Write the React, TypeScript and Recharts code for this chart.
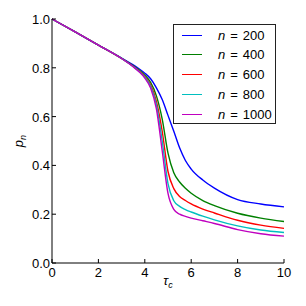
import { LineChart, Line, XAxis, YAxis, Legend } from 'recharts'

const tau = [0, 1, 2, 3, 3.5, 3.75, 4, 4.25, 4.5, 4.75, 5, 5.25, 5.5, 5.75, 6, 6.5, 7, 8, 9, 10]
const p200 = [1.0, 0.947, 0.893, 0.84, 0.812, 0.796, 0.778, 0.755, 0.718, 0.67, 0.605, 0.54, 0.472, 0.42, 0.385, 0.34, 0.307, 0.26, 0.242, 0.23]
const p400 = [1.0, 0.947, 0.893, 0.839, 0.808, 0.791, 0.77, 0.74, 0.685, 0.59, 0.45, 0.37, 0.332, 0.306, 0.286, 0.256, 0.235, 0.204, 0.184, 0.17]
const p600 = [1.0, 0.947, 0.893, 0.838, 0.806, 0.788, 0.765, 0.73, 0.662, 0.54, 0.375, 0.305, 0.273, 0.256, 0.242, 0.221, 0.205, 0.175, 0.155, 0.142]
const p800 = [1.0, 0.947, 0.893, 0.838, 0.805, 0.786, 0.762, 0.724, 0.648, 0.5, 0.325, 0.255, 0.232, 0.219, 0.209, 0.192, 0.177, 0.152, 0.135, 0.125]
const p1000 = [1.0, 0.947, 0.893, 0.838, 0.804, 0.784, 0.758, 0.717, 0.632, 0.46, 0.285, 0.22, 0.2, 0.191, 0.184, 0.173, 0.162, 0.137, 0.12, 0.11]

const xTicks = [0, 2, 4, 6, 8, 10]
const yTicks = [0, 0.2, 0.4, 0.6, 0.8, 1.0]

const series = [
  { key: 'n200', n: '200', values: p200, color: '#0000ff' },
  { key: 'n400', n: '400', values: p400, color: '#008000' },
  { key: 'n600', n: '600', values: p600, color: '#ff0000' },
  { key: 'n800', n: '800', values: p800, color: '#00bfbf' },
  { key: 'n1000', n: '1000', values: p1000, color: '#bf00bf' },
]

const rows = tau.map((t, i) => {
  const row: Record<string, number> = { tau: t }
  series.forEach((s) => { row[s.key] = s.values[i] })
  return row
})

const font = "'Liberation Sans', sans-serif"
const tickFont = { fontFamily: font, fontSize: 13, fill: '#000' }

const BottomTick = ({ x, y, payload }: any) => (
  <g>
    <line x1={x} y1={y} x2={x} y2={y - 4} stroke="#000" />
    <text x={x} y={y + 14} textAnchor="middle" style={tickFont}>{payload.value}</text>
  </g>
)

const TopTick = ({ x, y }: any) => <line x1={x} y1={y} x2={x} y2={y + 4} stroke="#000" />

const LeftTick = ({ x, y, payload }: any) => (
  <g>
    <line x1={x} y1={y} x2={x + 4} y2={y} stroke="#000" />
    <text x={x - 2} y={y + 5} textAnchor="end" style={tickFont}>{payload.value.toFixed(1)}</text>
  </g>
)

const RightTick = ({ x, y }: any) => <line x1={x} y1={y} x2={x - 4} y2={y} stroke="#000" />

const XTitle = ({ viewBox }: any) => (
  <text x={viewBox.x + viewBox.width / 2} y={viewBox.y + 22} textAnchor="middle" style={{ fontFamily: font, fontSize: 13 }}>
    <tspan fontStyle="italic">τ</tspan>
    <tspan fontStyle="italic" fontSize={9} dy={3}>c</tspan>
  </text>
)

const YTitle = ({ viewBox }: any) => {
  const cx = viewBox.x + 11
  const cy = viewBox.y + viewBox.height / 2
  return (
    <text x={cx} y={cy} textAnchor="middle" transform={`rotate(-90 ${cx} ${cy})`} style={{ fontFamily: font, fontSize: 13 }}>
      <tspan fontStyle="italic">p</tspan>
      <tspan fontStyle="italic" fontSize={9} dy={3}>n</tspan>
    </text>
  )
}

const LegendBox = () => (
  <div style={{ width: 101, height: 98, border: '1.5px solid #222', background: '#fff', fontFamily: font, fontSize: 13, position: 'relative' }}>
    {series.map((s, i) => (
      <div key={s.key} style={{ position: 'absolute', left: 0, top: 2 + i * 19.8, height: 16, display: 'flex', alignItems: 'center' }}>
        <span style={{ display: 'inline-block', width: 20, height: 0, borderTop: `1.5px solid ${s.color}`, marginLeft: 8 }} />
        <span style={{ marginLeft: 16, whiteSpace: 'pre' }}>
          <i>n</i><span style={{ margin: '0 5px' }}>=</span>{s.n}
        </span>
      </div>
    ))}
  </div>
)

export default function App() {
  return (
    <div style={{ position: 'absolute', left: 0, top: 0, background: '#fff' }}>
      <LineChart width={306} height={306} data={rows} margin={{ top: 19, right: 22, bottom: 13, left: 12 }}>
        <XAxis dataKey="tau" type="number" domain={[0, 10]} ticks={xTicks} interval={0} height={30}
          tickSize={0} tickMargin={0} tickLine={false} axisLine={{ stroke: '#000' }} tick={BottomTick} label={XTitle} />
        <XAxis xAxisId="top" orientation="top" dataKey="tau" type="number" domain={[0, 10]} ticks={xTicks} interval={0} height={0}
          tickSize={0} tickMargin={0} tickLine={false} axisLine={{ stroke: '#000' }} tick={TopTick} />
        <YAxis type="number" domain={[0, 1]} ticks={yTicks} interval={0} width={40}
          tickSize={0} tickMargin={0} tickLine={false} axisLine={{ stroke: '#000' }} tick={LeftTick} label={YTitle} />
        <YAxis yAxisId="right" orientation="right" type="number" domain={[0, 1]} ticks={yTicks} interval={0} width={0}
          tickSize={0} tickMargin={0} tickLine={false} axisLine={{ stroke: '#000' }} tick={RightTick} />
        {series.map((s) => (
          <Line key={s.key} type="monotone" dataKey={s.key} stroke={s.color} strokeWidth={1.4} dot={false} isAnimationActive={false} />
        ))}
        <Legend layout="vertical" align="center" verticalAlign="middle" content={LegendBox}
          wrapperStyle={{ left: 173, top: 24, width: 'auto' }} />
      </LineChart>
    </div>
  )
}
